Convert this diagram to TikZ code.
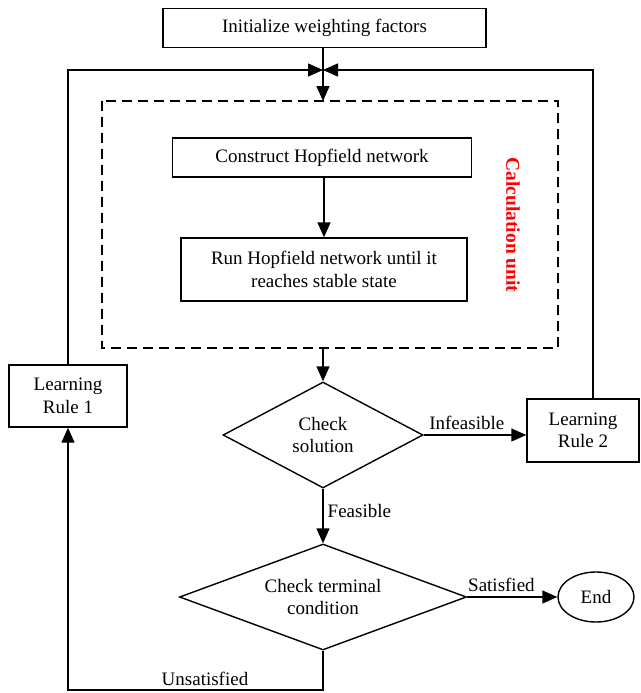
\documentclass[tikz,border=0pt]{standalone}
\usepackage{fontspec}
\setmainfont{Liberation Serif}
\usetikzlibrary{shapes.geometric,arrows.meta}
\begin{document}
\begin{tikzpicture}[x=1pt,y=-1pt,
  every node/.style={font=\fontsize{19}{22.5}\selectfont},
  box/.style={draw,line width=1.4pt,rectangle,inner sep=0pt,align=center},
  dia/.style={draw,line width=1.4pt,diamond,aspect=2,inner sep=0pt,align=center},
  line/.style={line width=1.4pt},
  arr/.style={line width=1.4pt,-{Triangle[length=15pt,width=13pt]}},
  lbl/.style={inner sep=1pt}
]
\useasboundingbox (0,0) rectangle (640,693);
\node[box,minimum width=323pt,minimum height=39pt] (init) at (324.5,28) {Initialize weighting factors};
\draw[line width=1.4pt,dash pattern=on 10pt off 6pt] (102,101) rectangle (558,348);
\coordinate (dtop) at (323,101);
\coordinate (dbot) at (323,348);
\node[box,minimum width=299pt,minimum height=39pt] (cons) at (322,157.5) {Construct Hopfield network};
\node[box,minimum width=286pt,minimum height=63pt] (run) at (324,269.5) {Run Hopfield network until it\\reaches stable state};
\node[rotate=-90,text=red,font=\fontsize{19.5}{22.5}\selectfont\bfseries] (calc) at (513,225) {Calculation unit};
\node[dia,minimum width=200pt,minimum height=106pt] (chk) at (323,435) {Check\\solution};
\node[dia,minimum width=287pt,minimum height=106pt] (term) at (323,597) {Check terminal\\condition};
\node[box,minimum width=118pt,minimum height=62pt] (lr1) at (68,396) {Learning\\Rule 1};
\node[box,minimum width=112pt,minimum height=63pt] (lr2) at (583,430.5) {Learning\\Rule 2};
\node[draw,line width=1.4pt,ellipse,inner sep=0pt,minimum width=76pt,minimum height=50pt] (end) at (596,597) {End};
\coordinate (jn) at (323,70);
\coordinate (lt) at (68,70);
\coordinate (rt) at (593,70);
\coordinate (bl) at (68,690);
\coordinate (bm) at (323,690);
% connectors
\draw[arr] (init.south -| dtop) -- (dtop);
\draw[arr] (lr1.north) -- (lt) -- (jn);
\draw[arr] (lr2.north -| rt) -- (rt) -- (jn);
\draw[arr] (cons.south -| run.north) -- (run.north);
\draw[arr] (dbot) -- (chk.north);
\draw[arr] (chk.east) -- (chk.east -| lr2.west) node[lbl,pos=0.42,above,yshift=4pt] {Infeasible};
\draw[arr] (chk.south) -- (term.north) node[lbl,pos=0.4,right,xshift=3pt] {Feasible};
\draw[arr] (term.east) -- (end.west) node[lbl,pos=0.38,above,yshift=4pt] {Satisfied};
\draw[arr] (term.south) -- (bm) -- (bl) -- (lr1.south);
\node[lbl] (unsat) at (205,679) {Unsatisfied};
\end{tikzpicture}
\end{document}
